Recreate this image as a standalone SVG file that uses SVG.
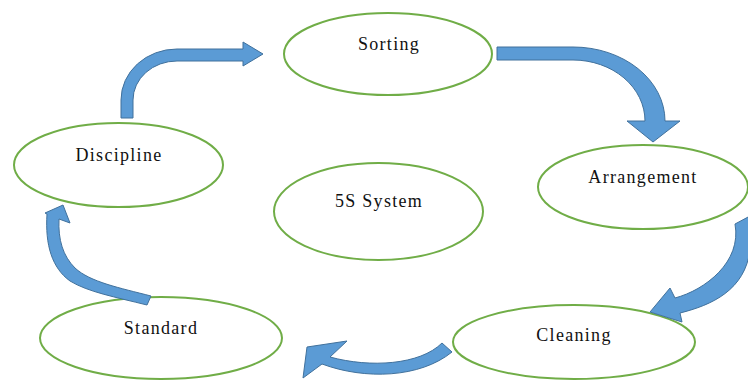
<svg xmlns="http://www.w3.org/2000/svg" width="748" height="381" viewBox="0 0 748 381">
<style>
.node ellipse{fill:#fff;stroke:#70AD47;stroke-width:2}
.node text{font-family:"Liberation Serif","Times New Roman",serif;font-size:18px;letter-spacing:1.3px;fill:#111;text-anchor:middle}
.arrow{fill:#5B9BD5;stroke:#41719C;stroke-width:1;stroke-linejoin:miter}
</style>
<rect width="748" height="381" fill="#fff"/>
<g id="sorting" class="node"><ellipse cx="388" cy="54" rx="104" ry="41"/><text x="389" y="50">Sorting</text></g>
<g id="arrangement" class="node"><ellipse cx="643" cy="187" rx="105" ry="42"/><text x="643" y="182.5">Arrangement</text></g>
<g id="discipline" class="node"><ellipse cx="118.5" cy="165" rx="104.5" ry="42"/><text x="119" y="160.5">Discipline</text></g>
<g id="system5s" class="node"><ellipse cx="378.5" cy="211.5" rx="104.5" ry="48.5"/><text x="379" y="206.5">5S System</text></g>
<g id="standard" class="node"><ellipse cx="161" cy="338" rx="121" ry="41"/><text x="161" y="334">Standard</text></g>
<g id="cleaning" class="node"><ellipse cx="574" cy="342" rx="121" ry="37"/><text x="574" y="340.5">Cleaning</text></g>
<g id="connectors">
<path class="arrow" d="M 121,118 L 121,100 A 56 51 0 0 1 177,49 L 243,49 L 243,42 L 263,54 L 243,66 L 243,61 L 177,61 A 44 39 0 0 0 133,100 L 133,118 Z"/>
<path class="arrow" d="M 497,47 L 573,47 A 92 74 0 0 1 665,121 L 680,121 L 653,142 L 627,121 L 645,121 A 72 61 0 0 0 573,60 L 497,60 Z"/>
<path class="arrow" d="M 735,224 L 750,216 L 750,250 C 745,290 712,305 680,313 L 682,322 L 650,312 L 670,288 L 675,298 C 705,290 742,262 735,224 Z"/>
<path class="arrow" d="M 442,343 C 420,365 370,368 330,357 L 347,341 L 307,347 L 303,378 L 322,364 C 365,380 420,378 452,352 Z"/>
<path class="arrow" d="M 151,296 C 120,288 90,282 75,268 C 63,256 58,240 59,219 L 70,223 L 63,205 L 45,213 L 47,214 C 45,245 52,268 70,281 C 88,292 115,297 147,305 Z"/>
</g>
</svg>
